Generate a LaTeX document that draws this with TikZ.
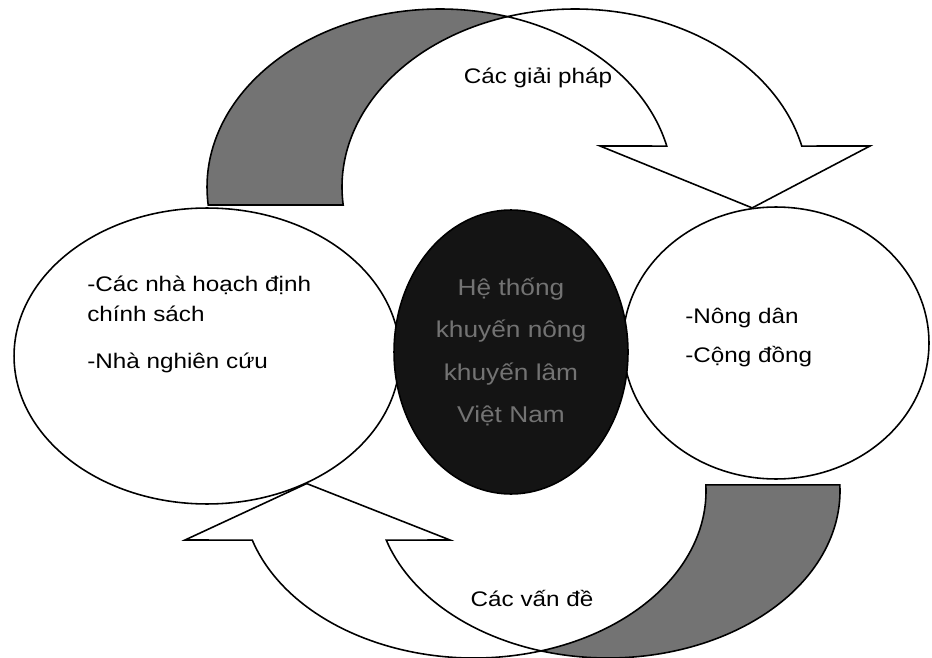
\documentclass[tikz,border=0pt]{standalone}
\usepackage{fontspec}
\setmainfont{Liberation Sans}[FakeStretch=1.15]
\usetikzlibrary{calc,shapes.geometric}

\tikzset{
  outline/.style={draw=black,line width=0.9pt},
  band/.style={outline,fill=black!55},
  front/.style={outline,fill=white},
  role/.style={ellipse,outline,fill=white,inner sep=0pt},
  lbl/.style={font=\fontsize{12}{14}\selectfont,anchor=base west,inner sep=0pt},
}

\begin{document}
\begin{tikzpicture}[x=0.02cm,y=-0.02cm]
        \useasboundingbox (0,0) rectangle (932,658);

        \node[role,minimum width=7.72cm,minimum height=5.92cm] (policy) at (207,356) {};
        \node[role,minimum width=6.12cm,minimum height=5.44cm] (farmers) at (776,343) {};
        \node[role,fill=black!92,minimum width=4.68cm,minimum height=5.68cm,
              align=center,text=black!55,font=\fontsize{13}{24}\selectfont] (hub) at (511,352)
              {Hệ thống\\khuyến nông\\khuyến lâm\\Việt Nam};

        \node[lbl] (policyA) at (87,292) {-Các nhà hoạch định};
        \node[lbl] (policyB) at (87,321) {chính sách};
        \node[lbl] (policyC) at (87,368) {-Nhà nghiên cứu};
        \node[lbl] (farmersA) at (685,323) {-Nông dân};
        \node[lbl] (farmersB) at (685,362) {-Cộng đồng};

        \coordinate (eA) at (440,187);
        \coordinate (eB) at (575,187);
        \coordinate (eC) at (474,491);
        \coordinate (eD) at (608,491);

        % upper ribbon: back face, then the front face with its head
        \filldraw[band] ($(eA)+(174.2:233 and 178)$) arc[start angle=174.2,end angle=286.8,x radius=233,y radius=178]
            -- ($(eB)+(253.2:233 and 178)$) arc[start angle=253.2,end angle=174.2,x radius=233,y radius=178] -- cycle;
        \filldraw[front] ($(eB)+(253.2:233 and 178)$) arc[start angle=253.2,end angle=346.7,x radius=233,y radius=178]
            -- (870,146) -- (farmers.100) -- (600,146)
            -- ($(eA)+(346.7:233 and 178)$) arc[start angle=346.7,end angle=286.8,x radius=233,y radius=178] -- cycle;

        % lower ribbon
        \filldraw[band] ($(eD)+(106.8:232 and 167)$) arc[start angle=106.8,end angle=-2.1,x radius=232,y radius=167]
            -- ($(eC)+(-2.1:232 and 167)$) arc[start angle=-2.1,end angle=73.2,x radius=232,y radius=167] -- cycle;
        \filldraw[front] ($(eC)+(162.9:232 and 167)$) arc[start angle=162.9,end angle=73.2,x radius=232,y radius=167]
            -- ($(eD)+(106.8:232 and 167)$) arc[start angle=106.8,end angle=162.9,x radius=232,y radius=167]
            -- (450,540) -- (policy.-52) -- (185,540) -- cycle;

        \node[font=\fontsize{12}{14}\selectfont,anchor=base] (solutions) at (538,84) {Các giải pháp};
        \node[font=\fontsize{12}{14}\selectfont,anchor=base] (problems) at (532,606) {Các vấn đề};
    \end{tikzpicture}
\end{document}
